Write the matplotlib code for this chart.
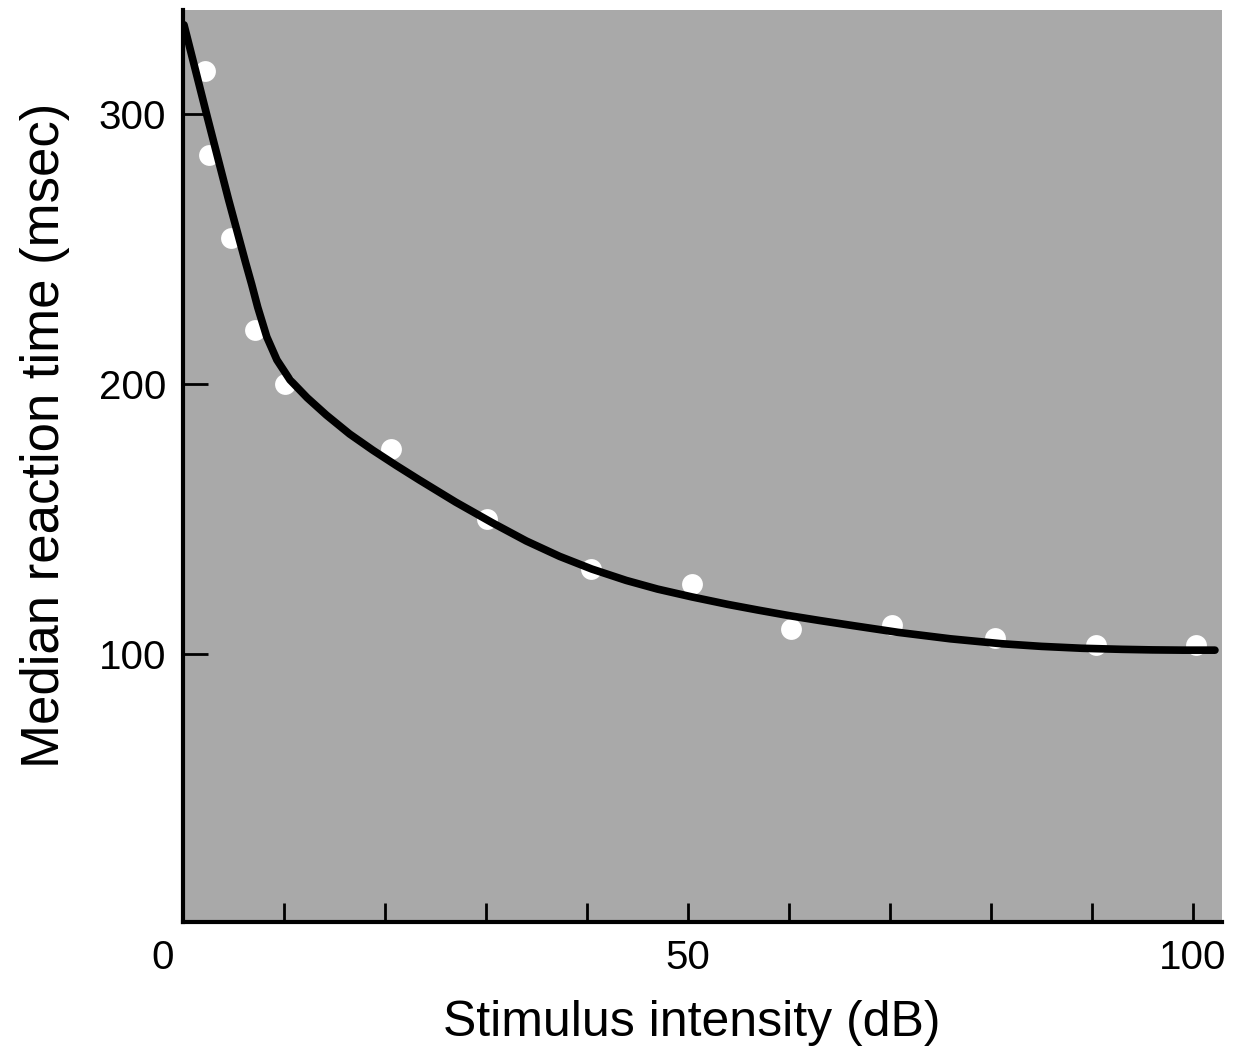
import matplotlib.pyplot as plt
from matplotlib.transforms import ScaledTranslation

plt.rcParams['font.family'] = ['Liberation Sans', 'DejaVu Sans']

# measured points (white dots)
intensity = [2.2, 2.6, 4.8, 7.1, 10.1, 20.6, 30.1, 40.4, 50.4, 60.2, 70.2, 80.4, 90.4, 100.3]
median_rt = [316, 285, 254, 220, 200, 176, 150, 131.5, 126, 109.5, 111, 106, 103.5, 103.5]

# fitted curve
curve_x = [0.1, 2.4, 4.5, 6.2, 6.8, 7.4, 8.3, 9.3, 10.6, 12.3, 14.2, 16.5, 18.8, 21.1,
           23.4, 27.0, 30.6, 34.0, 37.3, 40.5, 43.9, 47.0, 50.4, 54.0, 57.0, 60.0,
           63.0, 66.5, 70.8, 76.0, 81.0, 85.0, 89.0, 93.0, 96.0, 99.0, 102.2]
curve_y = [333, 299, 268.5, 245, 237, 228.5, 217.5, 209, 201.6, 195, 188.6, 181.6, 175.6, 170,
           164.6, 156.4, 148.8, 142, 136.3, 131.6, 127.4, 124.2, 121.3, 118.5, 116.4, 114.4,
           112.6, 110.6, 108.2, 105.8, 104, 103, 102.3, 101.9, 101.7, 101.6, 101.6]

fig = plt.figure(figsize=(12.33, 10.51), dpi=100)
ax = fig.add_axes([183 / 1233, 1 - 922 / 1051, (1222 - 183) / 1233, (922 - 10) / 1051])
ax.set_facecolor('#a9a9a9')

ax.plot(intensity, median_rt, 'o', color='white', markersize=15, markeredgewidth=0, zorder=2)
ax.plot(curve_x, curve_y, color='black', linewidth=5.5, solid_capstyle='round',
        solid_joinstyle='round', zorder=3)

ax.set_xlim(0, 102.9)
ax.set_ylim(1, 338.5)

for side in ['top', 'right']:
    ax.spines[side].set_visible(False)
for side in ['left', 'bottom']:
    ax.spines[side].set_linewidth(3)

ax.set_xticks([0, 10, 20, 30, 40, 50, 60, 70, 80, 90, 100])
ax.set_xticklabels(['0', '', '', '', '', '50', '', '', '', '', '100'])
ax.set_yticks([100, 200, 300])
ax.tick_params(axis='x', direction='in', length=14, width=2, labelsize=29, pad=12)
ax.tick_params(axis='y', direction='in', length=18, width=2, labelsize=29, pad=12)

# the "0" sits left of the origin in the original
lbl0 = ax.get_xticklabels()[0]
lbl0.set_transform(lbl0.get_transform() + ScaledTranslation(-0.2, 0, fig.dpi_scale_trans))

ax.set_xlabel('Stimulus intensity (dB)', fontsize=36)
ax.set_ylabel('Median reaction time (msec)', fontsize=38)
ax.xaxis.set_label_coords(0.49, -0.086)
ax.yaxis.set_label_coords(-0.109, 0.534)

plt.savefig('out.png', dpi=100)
